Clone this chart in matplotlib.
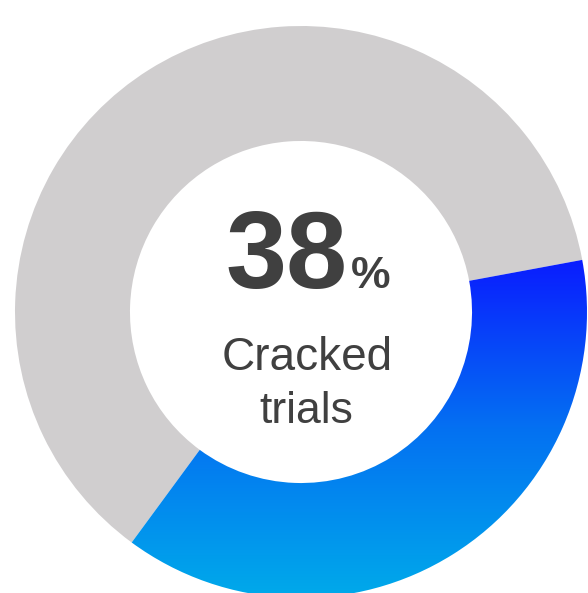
"""
Donut chart: share of cracked trials
"""
import numpy as np
import matplotlib.pyplot as plt
from matplotlib.colors import LinearSegmentedColormap

labels = ["Cracked", "Not cracked"]
values = [38, 62]
big_number = "38"
caption = "Cracked\ntrials"

W, H = 588, 593
cx, cy = 301, H - 312   # donut centre in pixels (y up)
r_out = 286
ring = 0.402

fig = plt.figure(figsize=(W / 100, H / 100), dpi=100)
ax = fig.add_axes([0, 0, 1, 1])

wedges, _ = ax.pie(values, startangle=10.5, counterclock=False,
                   colors=["#0a1cff", "#d0cecf"], center=(cx, cy), radius=r_out,
                   wedgeprops=dict(width=r_out * ring, linewidth=0), frame=True)
ax.set_xlim(0, W)
ax.set_ylim(0, H)
ax.set_aspect("equal")
ax.axis("off")

# blue gradient inside the first wedge
grad_cmap = LinearSegmentedColormap.from_list("blu", ["#00aaea", "#0470f2", "#0a1aff"])
yy = np.linspace(0, 1, 256).reshape(-1, 1)
img = ax.imshow(yy, cmap=grad_cmap, origin="lower", aspect="auto",
                extent=[cx - r_out, cx + r_out, cy - r_out, H - 255], zorder=3)
img.set_clip_path(wedges[0])
wedges[0].set_facecolor("none")

txt_col = "#404040"
ax.text(348, H - 288, big_number, ha="right", va="baseline", fontsize=79,
        fontweight="bold", family="Liberation Sans", color=txt_col, zorder=5)
ax.text(351, H - 288, "%", ha="left", va="baseline", fontsize=32,
        fontweight="bold", family="Liberation Sans", color=txt_col, zorder=5)
ax.text(307, H - 370, caption.split("\n")[0], ha="center", va="baseline", fontsize=33,
        family="Liberation Sans", color=txt_col, zorder=5)
ax.text(306, H - 423, caption.split("\n")[1], ha="center", va="baseline", fontsize=32,
        family="Liberation Sans", color=txt_col, zorder=5)

fig.savefig("out.png", dpi=100)
